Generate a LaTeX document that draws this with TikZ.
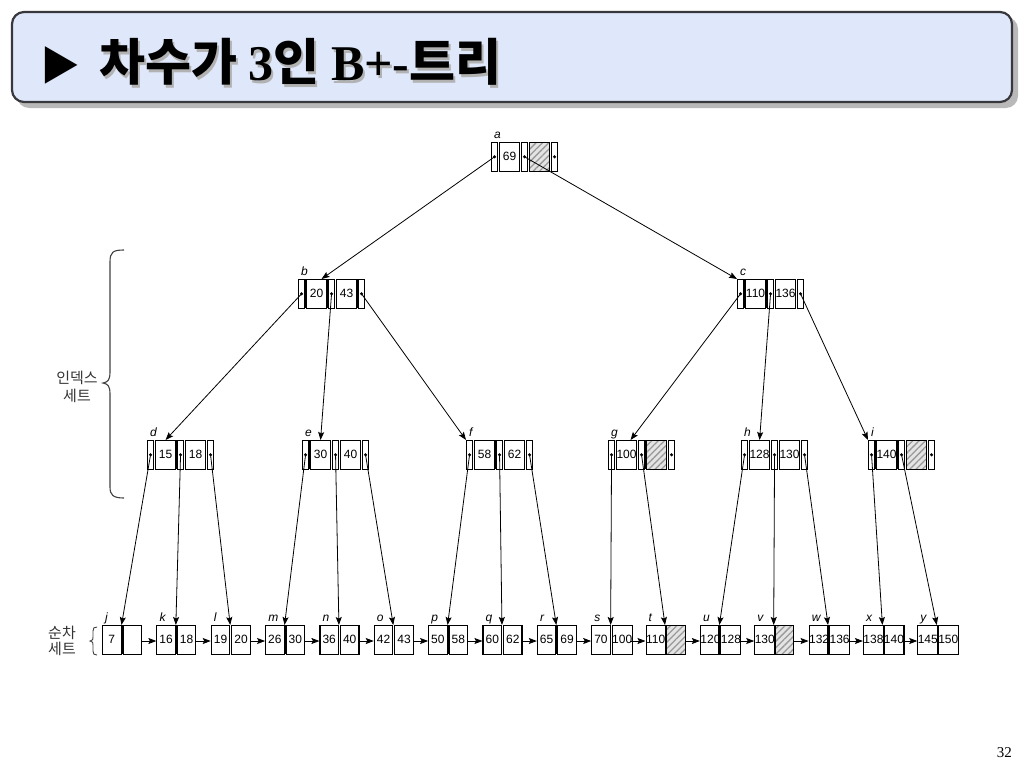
\documentclass[tikz,border=0pt]{standalone}
\usepackage{fontspec}
\setmainfont{Liberation Serif}
\setsansfont{Liberation Sans}
\newfontfamily\krfont{Noto Sans CJK KR}
\usetikzlibrary{arrows.meta,patterns.meta,calc}
\definecolor{titlefill}{RGB}{222,232,250}
\definecolor{titleline}{RGB}{55,55,60}
\definecolor{hatchbg}{RGB}{228,228,228}
\tikzset{
 slot/.style={draw=black,line width=1.1pt,inner sep=0pt,minimum height=28.5pt,anchor=north west,font=\sffamily\fontsize{12}{12}\selectfont},
 ptrslot/.style={slot,minimum width=6pt},
 keyslot/.style={slot,minimum width=20pt},
 leafslot/.style={slot,minimum width=18.5pt},
 hatch/.style={preaction={fill=hatchbg},pattern={Lines[angle=45,distance=4.5pt,line width=1.3pt]},pattern color=gray!80},
 plain/.style={},
 nodelbl/.style={anchor=base west,inner sep=0pt,font=\sffamily\itshape\fontsize{12}{12}\selectfont},
 treearrow/.style={line width=0.8pt,-{Stealth[length=8pt,width=6pt,inset=1.5pt]}},
 bracestyle/.style={draw=black!75,line width=1.1pt},
 sidelbl/.style={align=center,inner sep=0pt,text=black!80},
 titlefont/.style={font=\krfont\bfseries\fontsize{50}{50}\selectfont},
}
\newcommand\InNode[6]{%
 \node[ptrslot] (#1-p1) at (#2,#3) {};
 \node[keyslot] (#1-k1) at (#2+8,#3) {#4};
 \node[ptrslot] (#1-p2) at (#2+30,#3) {};
 \node[keyslot,#6] (#1-k2) at (#2+38,#3) {#5};
 \node[ptrslot] (#1-p3) at (#2+60,#3) {};
 \node[nodelbl] (#1-lbl) at (#2+3,#3-4) {#1};
 \fill (#1-p1.center) circle (1.7);
 \fill (#1-p2.center) circle (1.7);
 \fill (#1-p3.center) circle (1.7);
}
\newcommand\ThickGap[3]{\fill (#1+#3,#2) rectangle ++(2.2,28.5);}
\newcommand\Leaf[6]{%
 \node[leafslot] (#1-k1) at (#2,#3) {#4};
 \node[leafslot,#6] (#1-k2) at (#2+20.5,#3) {#5};
 \node[nodelbl] (#1-lbl) at (#2+3,#3-4) {#1};
 \coordinate (#1-top) at (#2+19.5,#3);
 \coordinate (#1-in) at (#2,#3+16);
 \coordinate (#1-out) at (#2+39,#3+16);
}
\begin{document}
\begin{tikzpicture}[x=1pt,y=-1pt]
\useasboundingbox (0,0) rectangle (1024,768);
% title
\fill[gray!55,rounded corners=12] (17,17) rectangle (1018,108);
\draw[titleline,line width=2.2,fill=titlefill,rounded corners=12] (12,12) rectangle (1012,102);
\node[anchor=base west,inner sep=0pt,text=gray!60,titlefont] (titleshadow) at (101,83) {차수가 {\rmfamily 3}인 {\rmfamily B+-}트리};
\node[anchor=base west,inner sep=0pt,titlefont] (title) at (99,81) {차수가 {\rmfamily 3}인 {\rmfamily B+-}트리};
\node[anchor=base west,inner sep=0pt,font=\krfont\fontsize{40}{40}\selectfont] (tri) at (40,80) {▶};
% internal nodes
\InNode{a}{491}{142}{69}{}{hatch}
\InNode{b}{298}{279}{20}{43}{plain}
\InNode{c}{737}{279}{110}{136}{plain}
\InNode{d}{147}{440}{15}{18}{plain}
\InNode{e}{302}{440}{30}{40}{plain}
\InNode{f}{466}{440}{58}{62}{plain}
\InNode{g}{608}{440}{100}{}{hatch}
\InNode{h}{741}{440}{128}{130}{plain}
\InNode{i}{868}{440}{140}{}{hatch}
\ThickGap{298}{279}{6}\ThickGap{298}{279}{28}\ThickGap{298}{279}{58}
\ThickGap{737}{279}{6}\ThickGap{737}{279}{28}
\ThickGap{147}{440}{28}
\ThickGap{302}{440}{6}
\ThickGap{466}{440}{28}
\ThickGap{608}{440}{36}
\ThickGap{868}{440}{6}\ThickGap{868}{440}{28}
% leaves
\Leaf{j}{102}{625}{7}{}{plain}
\Leaf{k}{156.35}{625}{16}{18}{plain}
\Leaf{l}{210.7}{625}{19}{20}{plain}
\Leaf{m}{265.05}{625}{26}{30}{plain}
\Leaf{n}{319.4}{625}{36}{40}{plain}
\Leaf{o}{373.75}{625}{42}{43}{plain}
\Leaf{p}{428.1}{625}{50}{58}{plain}
\Leaf{q}{482.45}{625}{60}{62}{plain}
\Leaf{r}{536.8}{625}{65}{69}{plain}
\Leaf{s}{591.15}{625}{70}{100}{plain}
\Leaf{t}{645.5}{625}{110}{}{hatch}
\Leaf{u}{699.85}{625}{120}{128}{plain}
\Leaf{v}{754.2}{625}{130}{}{hatch}
\Leaf{w}{808.55}{625}{132}{136}{plain}
\Leaf{x}{862.9}{625}{138}{140}{plain}
\Leaf{y}{917.25}{625}{145}{150}{plain}
\foreach \lx in {102,156.35,265.05,428.1,536.8,699.85,808.55} {\fill (\lx+18.5,625) rectangle ++(2,28.5);}
% tree arrows
\draw[treearrow] (a-p1.center) -- ($(b-k1.north)+(5,0)$);
\draw[treearrow] (a-p2.center) -- (c-p1.north west);
\draw[treearrow] (b-p1.center) -- (d-k1.north);
\draw[treearrow] (b-p2.center) -- (e-k1.north);
\draw[treearrow] (b-p3.center) -- (f-p1.north west);
\draw[treearrow] (c-p1.center) -- ($(g-k1.north)+(4,0)$);
\draw[treearrow] (c-p2.center) -- (h-k1.north);
\draw[treearrow] (c-p3.center) -- (i-p1.north west);
\draw[treearrow] (d-p1.center) -- (j-top);
\draw[treearrow] (d-p2.center) -- (k-top);
\draw[treearrow] (d-p3.center) -- (l-top);
\draw[treearrow] (e-p1.center) -- (m-top);
\draw[treearrow] (e-p2.center) -- (n-top);
\draw[treearrow] (e-p3.center) -- (o-top);
\draw[treearrow] (f-p1.center) -- (p-top);
\draw[treearrow] (f-p2.center) -- (q-top);
\draw[treearrow] (f-p3.center) -- (r-top);
\draw[treearrow] (g-p1.center) -- (s-top);
\draw[treearrow] (g-p2.center) -- (t-top);
\draw[treearrow] (h-p1.center) -- (u-top);
\draw[treearrow] (h-p2.center) -- (v-top);
\draw[treearrow] (h-p3.center) -- (w-top);
\draw[treearrow] (i-p1.center) -- (x-top);
\draw[treearrow] (i-p2.center) -- (y-top);
% sequence chain
\foreach \u/\v in {j/k,k/l,l/m,m/n,n/o,o/p,p/q,q/r,r/s,s/t,t/u,u/v,v/w,w/x,x/y}
  \draw[treearrow] (\u-out) -- (\v-in);
% braces and side labels
\draw[bracestyle] (124,250) .. controls (113,250) and (110,252) .. (110,262) -- (110,372) .. controls (110,380) and (108,382) .. (103,383) .. controls (108,384) and (110,386) .. (110,394) -- (110,487) .. controls (110,495) and (113,498) .. (124,498);
\node[sidelbl,font=\krfont\fontsize{15}{18}\selectfont] (idxlbl) at (77,387) {인덱스\\세트};
\draw[bracestyle,line width=0.9pt] (97,627) .. controls (94,627) and (93,628) .. (93,631) -- (93,637) .. controls (93,640) .. (90,641) .. controls (93,642) .. (93,645) -- (93,651) .. controls (93,654) and (94,655) .. (97,655);
\node[sidelbl,font=\krfont\fontsize{15}{16}\selectfont] (seqlbl) at (62,641) {순차\\세트};
% page number
\node[anchor=base east,inner sep=0pt,font=\rmfamily\fontsize{15}{15}\selectfont] (pgnum) at (1012,757) {32};
\end{tikzpicture}
\end{document}
